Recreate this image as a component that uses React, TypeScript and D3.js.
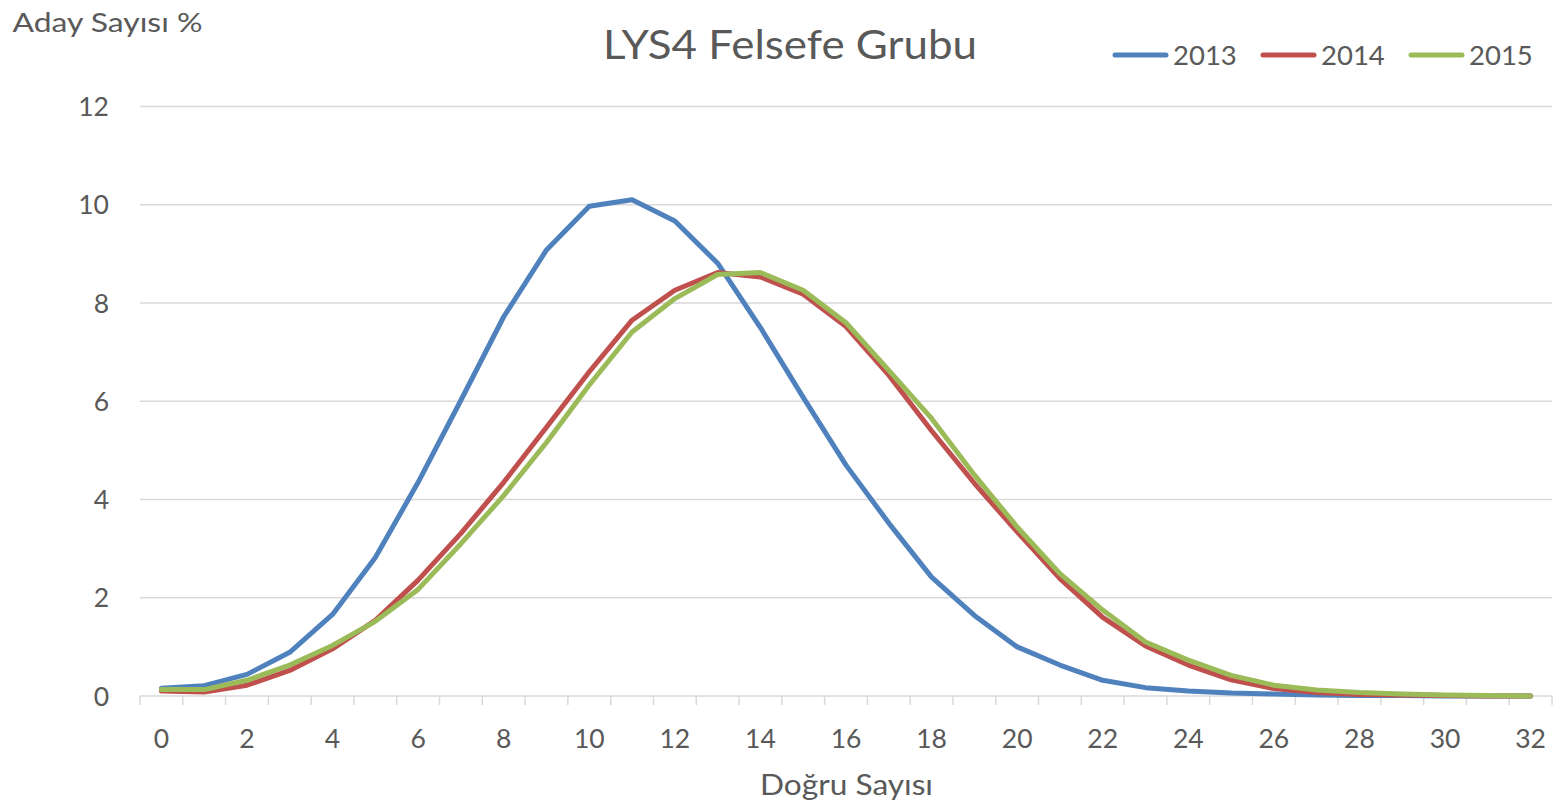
import React from 'react';
import * as d3 from 'd3';

const categories = d3.range(0, 33);
const xTickLabels = ['0', '2', '4', '6', '8', '10', '12', '14', '16', '18', '20', '22', '24', '26', '28', '30', '32'];
const yTicks = [0, 2, 4, 6, 8, 10, 12];

const values2013 = [0.16, 0.21, 0.44, 0.89, 1.66, 2.82, 4.35, 6.02, 7.72, 9.08, 9.97, 10.1, 9.67, 8.81, 7.5, 6.08, 4.7, 3.52, 2.42, 1.64, 1.0, 0.63, 0.32, 0.17, 0.1, 0.06, 0.04, 0.02, 0.01, 0.01, 0, 0, 0];
const values2014 = [0.1, 0.08, 0.22, 0.52, 0.96, 1.54, 2.36, 3.31, 4.35, 5.47, 6.6, 7.65, 8.26, 8.62, 8.53, 8.18, 7.52, 6.53, 5.4, 4.33, 3.34, 2.39, 1.6, 1.02, 0.63, 0.33, 0.15, 0.07, 0.03, 0.02, 0.01, 0, 0];
const values2015 = [0.13, 0.13, 0.32, 0.63, 1.03, 1.52, 2.17, 3.1, 4.08, 5.16, 6.33, 7.41, 8.09, 8.58, 8.62, 8.26, 7.6, 6.63, 5.65, 4.5, 3.44, 2.49, 1.75, 1.1, 0.73, 0.42, 0.22, 0.12, 0.07, 0.04, 0.02, 0.01, 0];

const series = [
  { name: '2013', values: values2013, color: '#4F81BD' },
  { name: '2014', values: values2014, color: '#C0504D' },
  { name: '2015', values: values2015, color: '#9BBB59' },
];

const W = 1562;
const H = 808;
const font = 'Lato, "Open Sans", sans-serif';
const textColor = '#595959';
const gridColor = '#d9d9d9';

export default function App() {
  const x = d3.scaleBand<number>().domain(categories).range([140, 1552]);
  const y = d3.scaleLinear().domain([0, 12]).range([696, 106.5]);
  const cx = (c: number) => (x(c) ?? 0) + x.bandwidth() / 2;

  const line = d3.line<number>()
    .x((_, i) => cx(categories[i]))
    .y(d => y(d));

  const tickEdges = d3.range(0, categories.length + 1).map(i => 140 + i * x.step());

  return (
    <div style={{ position: 'absolute', left: 0, top: 0 }}>
      <svg width={W} height={H} style={{ display: 'block', background: '#fff' }}>
        {/* grid */}
        {yTicks.map(t => (
          <line key={t} x1={140} x2={1552} y1={y(t)} y2={y(t)} stroke={gridColor} strokeWidth={1.5} />
        ))}
        {tickEdges.map((e, i) => (
          <line key={i} x1={e} x2={e} y1={696} y2={705} stroke={gridColor} strokeWidth={1.5} />
        ))}
        {/* y labels */}
        {yTicks.map(t => (
          <text key={t} x={109} y={y(t) + 9.5} textAnchor="end" fontFamily={font} fontSize={26.5} fill={textColor}>{t}</text>
        ))}
        {/* x labels */}
        {xTickLabels.map(l => (
          <text key={l} x={cx(+l)} y={747.5} textAnchor="middle" fontFamily={font} fontSize={26.5} fill={textColor}>{l}</text>
        ))}
        {/* lines */}
        {series.map(s => (
          <path key={s.name} d={line(s.values) ?? ''} fill="none" stroke={s.color} strokeWidth={5} strokeLinejoin="round" strokeLinecap="round" />
        ))}
        {/* titles */}
        <text x={603} y={58.5} fontFamily={font} fontSize={40} fill={textColor} textLength={374} lengthAdjust="spacingAndGlyphs">LYS4 Felsefe Grubu</text>
        <text x={12.5} y={32.3} fontFamily={font} fontSize={26.5} fill={textColor} textLength={190} lengthAdjust="spacingAndGlyphs">Aday Sayısı %</text>
        <text x={760} y={795} fontFamily={font} fontSize={28} fill={textColor} textLength={173} lengthAdjust="spacingAndGlyphs">Doğru Sayısı</text>
        {/* legend */}
        {series.map((s, i) => {
          const lx = 1113 + i * 148;
          return (
            <g key={s.name}>
              <line x1={lx + 2} x2={lx + 53} y1={55} y2={55} stroke={s.color} strokeWidth={5} strokeLinecap="round" />
              <text x={lx + 60} y={65} fontFamily={font} fontSize={27.5} fill={textColor}>{s.name}</text>
            </g>
          );
        })}
      </svg>
    </div>
  );
}
